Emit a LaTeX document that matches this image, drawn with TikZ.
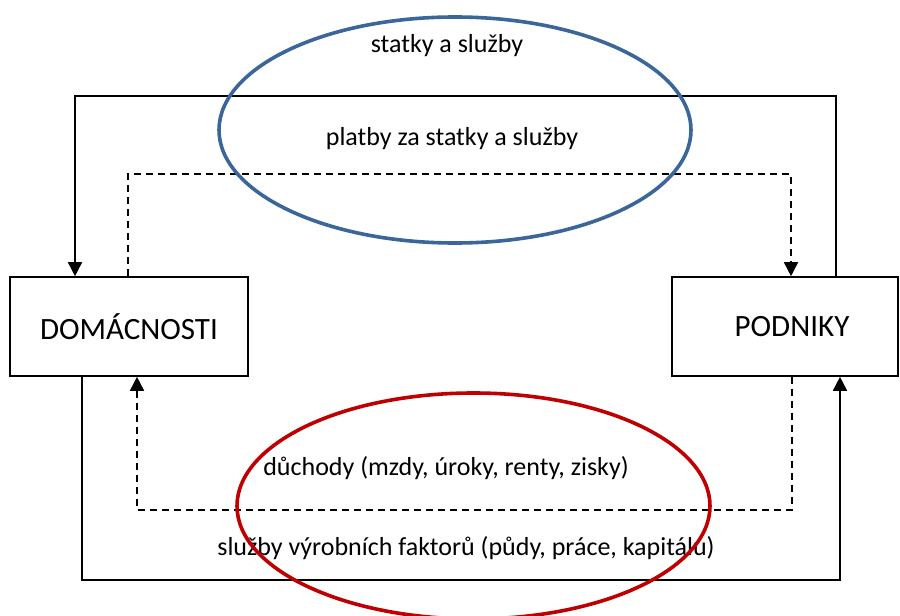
\documentclass[tikz,border=0pt]{standalone}
\usepackage{fontspec}
\setmainfont{Carlito}
\usetikzlibrary{arrows.meta,shapes.geometric}
\definecolor{ovalblue}{HTML}{3A6699}
\definecolor{ovalred}{HTML}{C00000}
\tikzset{
  agent/.style={draw, line width=1.6pt, rectangle, inner sep=0pt, minimum height=99pt, font=\fontsize{31}{36}\selectfont},
  flowsolid/.style={line width=1.6pt, -{Triangle[width=14pt,length=14pt]}},
  flowdashed/.style={line width=1.6pt, dash pattern=on 7pt off 5pt, -{Triangle[width=14pt,length=14pt]}},
  lbl/.style={anchor=base, inner sep=0pt, font=\fontsize{26}{30}\selectfont},
  oval/.style={ellipse, line width=3.6pt, inner sep=0pt}
}
\begin{document}
\begin{tikzpicture}[x=1pt,y=-1pt]
\useasboundingbox (0,0) rectangle (900,616);
% agents
\node[agent, minimum width=238pt] (domac) at (129,326.5) {DOMÁCNOSTI};
\node[agent, minimum width=226pt] (podn) at (785,326.5) {\hspace*{14pt}PODNIKY};
% corners
\coordinate (tl) at (75,96);
\coordinate (tr) at (836,96);
\coordinate (dtl) at (128,174);
\coordinate (dtr) at (791,174);
\coordinate (bl) at (82,580);
\coordinate (br) at (840,580);
\coordinate (dbl) at (137,510);
\coordinate (dbr) at (792,510);
% flows
\draw[flowsolid] (tr |- podn.north) -- (tr) -- (tl) -- (tl |- domac.north);
\draw[flowdashed] (dtl |- domac.north) -- (dtl) -- (dtr) -- (dtr |- podn.north);
\draw[flowsolid] (bl |- domac.south) -- (bl) -- (br) -- (br |- podn.south);
\draw[flowdashed] (dbr |- podn.south) -- (dbr) -- (dbl) -- (dbl |- domac.south);
% labels
\node[lbl] (t1) at (447,52) {statky a služby};
\node[lbl] (t2) at (452,145) {platby za statky a služby};
\node[lbl] (t3) at (446,475) {důchody (mzdy, úroky, renty, zisky)};
\node[lbl] (t4) at (466,555) {služby výrobních faktorů (půdy, práce, kapitálu)};
% ovals
\node[oval, draw=ovalblue, minimum width=472pt, minimum height=226pt] (eb) at (455,130) {};
\node[oval, draw=ovalred, minimum width=473pt, minimum height=226pt] (er) at (473.5,506) {};
\end{tikzpicture}
\end{document}
